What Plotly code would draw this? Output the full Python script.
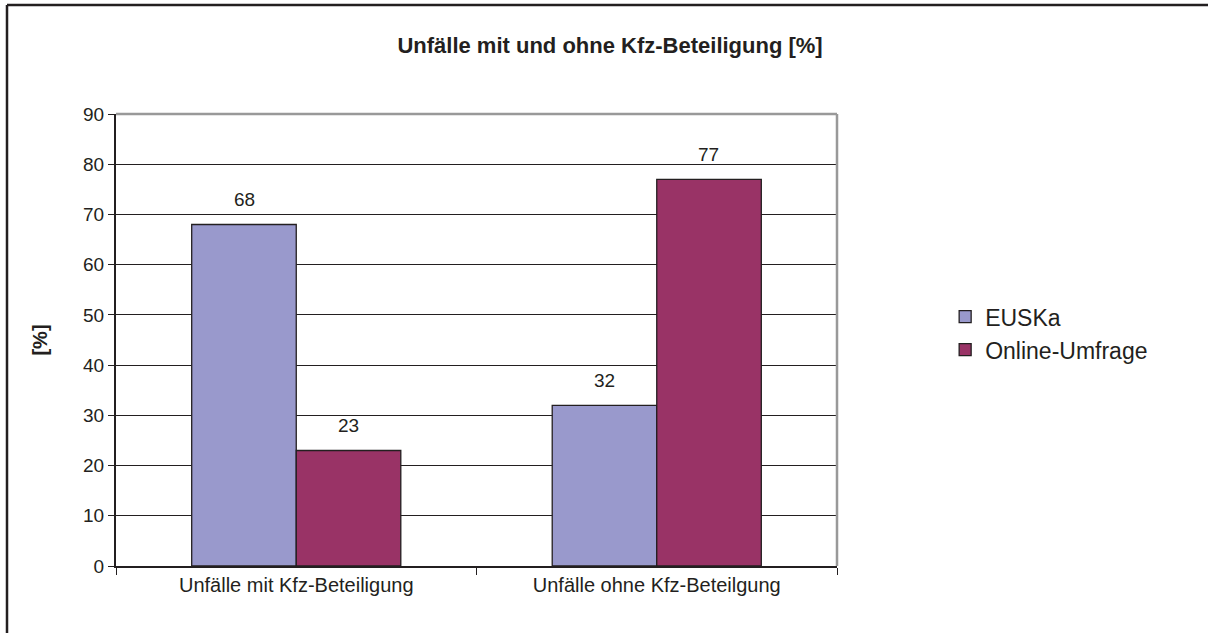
import plotly.graph_objects as go

categories = ['Unfälle mit Kfz-Beteiligung', 'Unfälle ohne Kfz-Beteilgung']
euska = [68, 32]
online = [23, 77]
y_ticks = [0, 10, 20, 30, 40, 50, 60, 70, 80, 90]

font = 'Liberation Sans, Arial, sans-serif'
ink = '#231F20'

fig = go.Figure()
fig.add_trace(go.Bar(x=categories, y=euska, name='EUSKa',
                     marker=dict(color='#9999CC', line=dict(color=ink, width=1.3))))
fig.add_trace(go.Bar(x=categories, y=online, name='Online-Umfrage',
                     marker=dict(color='#993366', line=dict(color=ink, width=1.3))))

# value labels, placed a little above each bar like the original
for series, shift in ((euska, -52), (online, 52)):
    for cat, val in zip(categories, series):
        fig.add_annotation(x=cat, y=val, text=str(val), showarrow=False,
                           xshift=shift, yshift=25, font=dict(size=19, color=ink))

fig.update_layout(
    width=1208, height=633,
    margin=dict(l=116, r=371, t=114, b=67, autoexpand=False),
    paper_bgcolor='white', plot_bgcolor='white',
    font=dict(family=font, color=ink),
    barmode='group', bargap=0.42, bargroupgap=0,
    title=dict(text='<b>Unfälle mit und ohne Kfz-Beteiligung [%]</b>',
               x=0.505, xanchor='center', y=0.929, yanchor='middle',
               font=dict(size=22, color=ink)),
    legend=dict(x=1.15, y=0.515, yanchor='middle', xanchor='left',
                font=dict(size=23), tracegroupgap=4, itemwidth=30,
                bgcolor='rgba(0,0,0,0)'),
    showlegend=True,
)

fig.update_xaxes(showline=True, linecolor=ink, linewidth=2, automargin=False,
                 ticks='outside', tickson='boundaries', ticklen=7, tickcolor=ink,
                 tickfont=dict(size=20, family=font), showgrid=False)
fig.update_yaxes(range=[0, 90], tickvals=y_ticks, showline=True, linecolor=ink,
                 linewidth=2, ticks='outside', ticklen=6, tickcolor=ink, automargin=False,
                 showgrid=True, gridcolor=ink, gridwidth=1.3, zeroline=False,
                 tickfont=dict(size=19, family=font),
                 title=dict(text='<b>[%]</b>', font=dict(size=20), standoff=30))

# grey plot frame on top and right
fig.add_shape(type='line', xref='paper', yref='paper', x0=0, x1=1, y0=1, y1=1,
              line=dict(color='#999999', width=2.5))
fig.add_shape(type='line', xref='paper', yref='paper', x0=1, x1=1, y0=0, y1=1,
              line=dict(color='#999999', width=2.5))

# outer chart border (top and left visible)
px0 = (7 - 116) / (1208 - 116 - 371)
py_top = (633 - 67 - 5) / (633 - 114 - 67)
fig.add_shape(type='line', xref='paper', yref='paper', x0=px0, x1=2, y0=py_top, y1=py_top,
              line=dict(color=ink, width=2.5))
fig.add_shape(type='line', xref='paper', yref='paper', x0=px0, x1=px0, y0=py_top, y1=-1,
              line=dict(color=ink, width=2.5))

fig.write_html("out.html", config={'displayModeBar': False},
               post_script="document.body.style.margin='0';")
